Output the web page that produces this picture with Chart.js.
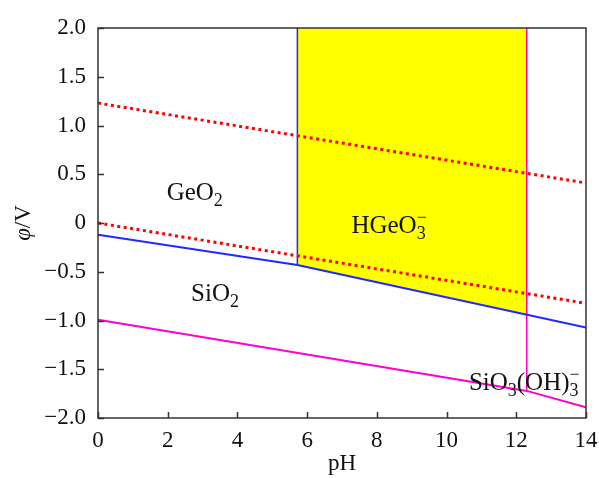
<!DOCTYPE html>
<html>
<head>
<meta charset="utf-8">
<script src="https://cdn.jsdelivr.net/npm/chart.js@4.4.0/dist/chart.umd.min.js"></script>
<style>
  html, body { margin: 0; padding: 0; background: #fff; }
  #wrap { width: 599px; height: 478px; }
</style>
</head>
<body>
<div id="wrap"><canvas id="pourbaix" width="599" height="478"></canvas></div>
<script>
// boundary lines (pH, potential in V)
var gePH = [0, 5.72, 14];          // Ge / GeO2 / HGeO3- boundary
var geV = [-0.12, -0.431, -1.071];
var siPH = [0, 12.3, 14];          // Si / SiO2 / SiO3(OH)3- boundary
var siV = [-0.993, -1.722, -1.889];
var waterPH = [0, 14];
var o2V = [1.23, 0.41];            // upper water line
var h2V = [0, -0.824];             // lower water line
var geVertPH = 5.72;               // GeO2 | HGeO3-
var siVertPH = 12.3;               // SiO2 | SiO3(OH)3-
var yTicks = [2, 1.5, 1, 0.5, 0, -0.5, -1, -1.5, -2];
var xTicks = [0, 2, 4, 6, 8, 10, 12, 14];

var BLUE = 'rgb(30,40,255)';
var MAGENTA = 'rgb(255,0,200)';
var RED = 'rgb(255,0,0)';
var SERIF = '"Liberation Serif", "DejaVu Serif", serif';

function pts(xs, ys) {
  return xs.map(function (x, i) { return { x: x, y: ys[i] }; });
}

// yellow area: between the Ge line and the top, from the blue vertical to the magenta one
var yellowPts = pts(gePH, geV).slice(1, 2).concat([{ x: siVertPH, y: geV[1] + (geV[2] - geV[1]) * (siVertPH - gePH[1]) / (gePH[2] - gePH[1]) }]);

var labels = [
  { pH: 1.97, v: 0.32, parts: [['GeO', 'n'], ['2', 'sub']] },
  { pH: 7.27, v: -0.02, parts: [['HGeO', 'n'], ['3', 'subsup']] },
  { pH: 2.67, v: -0.72, parts: [['SiO', 'n'], ['2', 'sub']] },
  { pH: 10.64, v: -1.63, parts: [['SiO', 'n'], ['3', 'sub'], ['(OH)', 'n'], ['3', 'subsup']] }
];

function drawChem(ctx, parts, x, y) {
  var big = '25px ' + SERIF, small = '18px ' + SERIF;
  ctx.textBaseline = 'alphabetic';
  ctx.textAlign = 'left';
  parts.forEach(function (p) {
    if (p[1] === 'n') {
      ctx.font = big;
      ctx.fillText(p[0], x, y);
      x += ctx.measureText(p[0]).width;
    } else {
      ctx.font = small;
      ctx.fillText(p[0], x, y + 6);
      var w = ctx.measureText(p[0]).width;
      if (p[1] === 'subsup') {
        ctx.fillText('\u2212', x, y - 10);
        w = Math.max(w, ctx.measureText('\u2212').width);
      }
      x += w;
    }
  });
}

var framePlugin = {
  id: 'frame',
  afterDatasetsDraw: function (chart) {
    var ctx = chart.ctx, a = chart.chartArea;
    var xs = chart.scales.x, ys = chart.scales.y;
    ctx.save();
    // region names
    ctx.fillStyle = '#111';
    labels.forEach(function (l) {
      drawChem(ctx, l.parts, xs.getPixelForValue(l.pH), ys.getPixelForValue(l.v) + 8);
    });
    // box and inward ticks
    ctx.strokeStyle = '#333';
    ctx.lineWidth = 1.5;
    ctx.strokeRect(a.left, a.top, a.right - a.left, a.bottom - a.top);
    ctx.beginPath();
    xTicks.forEach(function (t) {
      var px = Math.round(xs.getPixelForValue(t)) + 0.5;
      ctx.moveTo(px, a.bottom);
      ctx.lineTo(px, a.bottom - 6);
    });
    yTicks.forEach(function (t) {
      var py = Math.round(ys.getPixelForValue(t)) + 0.5;
      ctx.moveTo(a.left, py);
      ctx.lineTo(a.left + 6, py);
    });
    ctx.stroke();
    // y title: italic phi + /V, rotated
    ctx.translate(24, (a.top + a.bottom) / 2);
    ctx.rotate(-Math.PI / 2);
    ctx.fillStyle = '#111';
    ctx.textBaseline = 'middle';
    ctx.font = 'italic 23px ' + SERIF;
    var w1 = ctx.measureText('\u03c6').width;
    ctx.font = '23px ' + SERIF;
    var w2 = ctx.measureText('/V').width;
    var sx = -(w1 + w2) / 2;
    ctx.font = 'italic 23px ' + SERIF;
    ctx.fillText('\u03c6', sx, 0);
    ctx.font = '23px ' + SERIF;
    ctx.fillText('/V', sx + w1, 0);
    ctx.restore();
  }
};

function line(data, color, width, dash) {
  return {
    data: data,
    borderColor: color,
    borderWidth: width,
    borderDash: dash || [],
    borderCapStyle: 'butt',
    pointRadius: 0,
    fill: false,
    tension: 0,
    order: 1
  };
}

var ds = [
  {
    data: yellowPts,
    borderWidth: 0,
    borderColor: 'rgba(0,0,0,0)',
    backgroundColor: 'rgb(255,255,0)',
    pointRadius: 0,
    fill: { value: 2 },
    order: 10
  },
  line(pts(waterPH, o2V), RED, 3, [3, 3.5]),
  line(pts(waterPH, h2V), RED, 3, [3, 3.5]),
  line(pts(gePH, geV), BLUE, 2),
  line(pts(siPH, siV), MAGENTA, 2),
  line([{ x: geVertPH, y: 2 }, { x: geVertPH, y: geV[1] }], BLUE, 1.5),
  line([{ x: siVertPH, y: 2 }, { x: siVertPH, y: siV[1] }], MAGENTA, 1.5)
];

new Chart(document.getElementById('pourbaix').getContext('2d'), {
  type: 'line',
  data: { datasets: ds },
  plugins: [framePlugin],
  options: {
    responsive: false,
    animation: false,
    events: [],
    layout: { padding: { top: 28, right: 13, left: 0, bottom: 0 } },
    plugins: { legend: { display: false }, tooltip: { enabled: false } },
    scales: {
      x: {
        type: 'linear',
        min: 0, max: 14,
        afterBuildTicks: function (s) { s.ticks = xTicks.map(function (v) { return { value: v }; }); },
        afterFit: function (s) { s.height = 60; s.paddingRight = 0; s.paddingLeft = 0; },
        grid: { display: false, drawTicks: false },
        border: { display: false },
        ticks: { padding: 9, color: '#111', font: { family: SERIF, size: 23 } },
        title: { display: true, text: 'pH', color: '#111', padding: { top: 0, bottom: 0 }, font: { family: SERIF, size: 23 } }
      },
      y: {
        type: 'linear',
        min: -2, max: 2,
        afterBuildTicks: function (s) { s.ticks = yTicks.map(function (v) { return { value: v }; }); },
        afterFit: function (s) { s.width = 98; s.paddingTop = 0; s.paddingBottom = 0; },
        grid: { display: false, drawTicks: false },
        border: { display: false },
        ticks: {
          padding: 12, color: '#111', font: { family: SERIF, size: 23 },
          callback: function (v) { return v === 0 ? '0' : (v < 0 ? '\u2212' : '') + Math.abs(v).toFixed(1); }
        }
      }
    }
  }
});
</script>
</body>
</html>
